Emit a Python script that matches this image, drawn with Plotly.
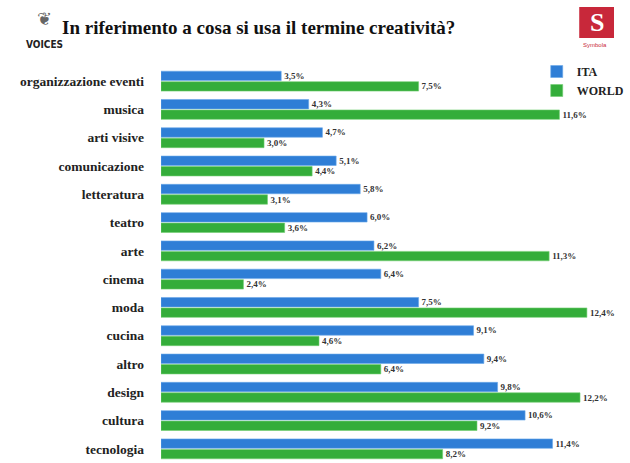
import plotly.graph_objects as go

categories = ["organizzazione eventi", "musica", "arti visive", "comunicazione",
              "letteratura", "teatro", "arte", "cinema", "moda", "cucina",
              "altro", "design", "cultura", "tecnologia"]
ita = [3.5, 4.3, 4.7, 5.1, 5.8, 6.0, 6.2, 6.4, 7.5, 9.1, 9.4, 9.8, 10.6, 11.4]
world = [7.5, 11.6, 3.0, 4.4, 3.1, 3.6, 11.3, 2.4, 12.4, 4.6, 6.4, 12.2, 9.2, 8.2]
series_names = ["ITA", "WORLD"]
title_text = "In riferimento a cosa si usa il termine creatività?"

W, H = 630, 463
L, R, T, B = 161, 0, 67, 0
PW, PH = W - L - R, H - T - B

def px(x):
    return (x - L) / PW

def py(y):
    return 1 - (y - T) / PH

SERIF = "Liberation Serif, Times New Roman, serif"

def fmt(v):
    return "<b>" + f"{v:.1f}".replace(".", ",") + "%</b>"

fig = go.Figure()
fig.add_trace(go.Bar(
    y=categories, x=ita, orientation="h", name="<b>" + series_names[0] + "</b>",
    marker=dict(color="#2f7ed6", line=dict(color="#6aa8ea", width=0.6)),
    text=[fmt(v) for v in ita], textposition="outside", cliponaxis=False,
    textfont=dict(family=SERIF, size=10.5, color="#333333"),
))
fig.add_trace(go.Bar(
    y=categories, x=world, orientation="h", name="<b>" + series_names[1] + "</b>",
    marker=dict(color="#34ad3a", line=dict(color="#72cf72", width=0.6)),
    text=[fmt(v) for v in world], textposition="outside", cliponaxis=False,
    textfont=dict(family=SERIF, size=10.5, color="#333333"),
))

fig.update_layout(
    width=W, height=H,
    margin=dict(l=L, r=R, t=T, b=B, pad=0),
    paper_bgcolor="white", plot_bgcolor="white",
    barmode="group", bargap=0.26, bargroupgap=0.1,
    xaxis=dict(range=[0, PW / 35.56], visible=False, fixedrange=True),
    yaxis=dict(categoryorder="array", categoryarray=categories,
               autorange="reversed", showgrid=False, showline=False,
               zeroline=False, ticks="", ticklabelstandoff=16,
               tickprefix="<b>", ticksuffix="</b>",
               tickfont=dict(family=SERIF, size=13.5, color="#222222")),
    showlegend=True,
    legend=dict(x=px(550), y=py(57), xanchor="left", yanchor="top",
                font=dict(family=SERIF, size=12, color="#222222"),
                bgcolor="rgba(0,0,0,0)", itemwidth=30, tracegroupgap=2),
)

# Title
fig.add_annotation(x=px(262), y=py(27), xref="paper", yref="paper",
                   text="<b>" + title_text + "</b>", showarrow=False,
                   xanchor="center", yanchor="middle",
                   font=dict(family=SERIF, size=19, color="#111111"))

# VOICES logo
fig.add_annotation(x=px(40), y=py(18), xref="paper", yref="paper",
                   text="\u2766", showarrow=False,
                   xanchor="center", yanchor="middle",
                   font=dict(family="DejaVu Sans", size=18, color="#666666"))
fig.add_annotation(x=px(40), y=py(45), xref="paper", yref="paper",
                   text="<b>VOICES</b>", showarrow=False,
                   xanchor="center", yanchor="middle",
                   font=dict(family="DejaVu Sans Condensed, Liberation Sans, sans-serif",
                             size=10, color="#222222"))

# Symbola logo
fig.add_shape(type="rect", xref="paper", yref="paper",
              x0=px(594), x1=px(630), y0=py(38), y1=py(7),
              fillcolor="#c8283a", line=dict(width=0))
fig.add_annotation(x=px(612), y=py(22), xref="paper", yref="paper",
                   text="<b>S</b>", showarrow=False,
                   xanchor="center", yanchor="middle",
                   font=dict(family="Liberation Serif", size=26, color="white"))
fig.add_annotation(x=px(596), y=py(45), xref="paper", yref="paper",
                   text="Symbola", showarrow=False,
                   xanchor="left", yanchor="middle",
                   font=dict(family="Liberation Sans", size=6, color="#c8283a"))

fig.write_html("out.html")
